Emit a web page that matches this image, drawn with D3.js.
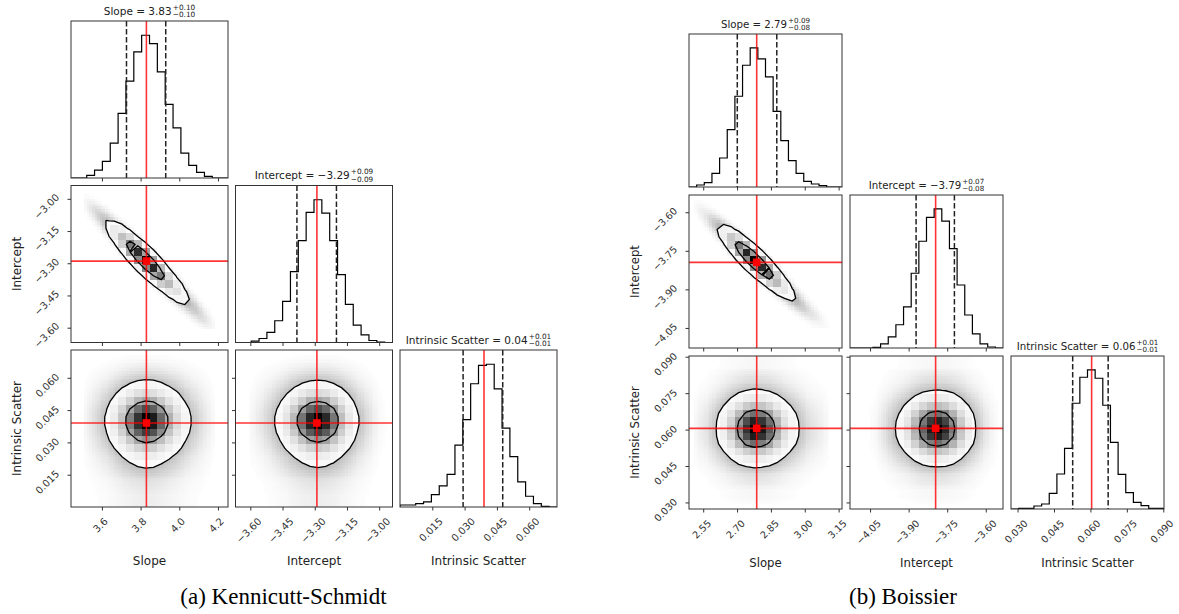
<!DOCTYPE html>
<html>
<head>
<meta charset="utf-8">
<script src="https://cdn.jsdelivr.net/npm/d3@7"></script>
<style>
  body { margin: 0; background: #fff; }
  svg { display: block; }
</style>
</head>
<body>
<svg width="1179" height="614"></svg>
<script>
//corner plots of the posterior for the two star formation laws
var svg = d3.select("svg"),
    width = +svg.attr("width"),
    height = +svg.attr("height");

var FONT = "DejaVu Sans";

var params = ["Slope", "Intercept", "Intrinsic Scatter"];
//mass enclosed by the two contours (1 and 2 sigma in 2D)
var contourLevels = [0.393, 0.865];

//(a) Kennicutt-Schmidt
var ksCaption = "(a) Kennicutt-Schmidt";
var ksRanges = [[3.44, 4.252], [-3.669, -2.938], [0.0, 0.0729]];
var ksTicks = [[3.6, 3.8, 4.0, 4.2], [-3.60, -3.45, -3.30, -3.15, -3.00], [0.015, 0.030, 0.045, 0.060]];
var ksTickDecimals = [1, 2, 3];
var ksSlopeHist = [0, 0, 8, 24, 50, 105, 195, 292, 380, 430, 405, 320, 222, 151, 75, 38, 17, 5, 0, 0];
var ksInterceptHist = [0, 0, 4, 12, 30, 65, 123, 212, 305, 389, 427, 387, 305, 203, 114, 52, 23, 6, 1, 0];
var ksScatterHist = [6, 6, 10, 15, 37, 63, 97, 184, 260, 367, 422, 425, 352, 235, 150, 75, 32, 10, 2, 0];
var ksQuantiles = [[3.727, 3.83, 3.930], [-3.383, -3.292, -3.199], [0.0293, 0.0387, 0.0477]];
var ksTruths = [3.83, -3.29, 0.039];
var ksTitleValues = [["3.83", "0.10", "0.10"], ["−3.29", "0.09", "0.09"], ["0.04", "0.01", "0.01"]];
//correlation for the pairs (slope,intercept), (slope,scatter), (intercept,scatter)
var ksCorrelation = [-0.96, 0, 0];

//(b) Boissier
var bsCaption = "(b) Boissier";
var bsRanges = [[2.487, 3.165], [-4.128, -3.533], [0.0273, 0.0903]];
var bsTicks = [[2.55, 2.70, 2.85, 3.00, 3.15], [-4.05, -3.90, -3.75, -3.60], [0.030, 0.045, 0.060, 0.075, 0.090]];
var bsTickDecimals = [2, 2, 3];
var bsSlopeHist = [0, 6, 13, 41, 87, 172, 272, 365, 417, 384, 330, 227, 139, 79, 41, 17, 9, 4, 0, 0];
var bsInterceptHist = [0, 0, 0, 2, 12, 33, 69, 122, 222, 317, 388, 413, 377, 295, 187, 98, 42, 12, 3, 0];
var bsScatterHist = [0, 2, 2, 9, 15, 47, 105, 182, 317, 395, 417, 392, 311, 200, 104, 49, 20, 10, 2, 2];
var bsQuantiles = [[2.701, 2.787, 2.876], [-3.871, -3.797, -3.722], [0.0527, 0.0602, 0.0673]];
var bsTruths = [2.787, -3.795, 0.0605];
var bsTitleValues = [["2.79", "0.09", "0.08"], ["−3.79", "0.07", "0.08"], ["0.06", "0.01", "0.01"]];
var bsCorrelation = [-0.96, 0, 0];


var ks = {
    id: "ks", caption: ksCaption, ranges: ksRanges, ticks: ksTicks, decimals: ksTickDecimals,
    hists: [ksSlopeHist, ksInterceptHist, ksScatterHist], quantiles: ksQuantiles,
    truths: ksTruths, titles: ksTitleValues, rho: ksCorrelation,
    left: 71, top: 21, size: 157, step: 164.5, fs: 1, captionX: 283.5
};
var bs = {
    id: "bs", caption: bsCaption, ranges: bsRanges, ticks: bsTicks, decimals: bsTickDecimals,
    hists: [bsSlopeHist, bsInterceptHist, bsScatterHist], quantiles: bsQuantiles,
    truths: bsTruths, titles: bsTitleValues, rho: bsCorrelation,
    left: 689, top: 34, size: 153, step: 161, fs: 0.975, captionX: 903
};

drawCorner(ks);
drawCorner(bs);


//histogram value at v, linear between bin centres
function histValue(h, r, v) {
    var n = h.length,
        p = (v - r[0]) / (r[1] - r[0]) * n - 0.5;
    if (p <= 0) return h[0];
    if (p >= n - 1) return h[n - 1];
    var k = Math.floor(p), t = p - k;
    return h[k] * (1 - t) + h[k + 1] * t;
}

//joint density: product of the marginals, tied by a gaussian copula
function densityFn(c, i, j) {
    var rho = c.rho[i + j - 1],
        qi = c.quantiles[i], qj = c.quantiles[j],
        si = (qi[2] - qi[0]) / 2, sj = (qj[2] - qj[0]) / 2,
        r2 = 1 - rho * rho, norm = 1 / Math.sqrt(r2);
    return function(x, y) {
        var f = histValue(c.hists[i], c.ranges[i], x) * histValue(c.hists[j], c.ranges[j], y);
        if (!rho || f === 0) return f;
        var zx = (x - qi[1]) / si, zy = (y - qj[1]) / sj;
        return f * norm * Math.exp(-(rho * rho * (zx * zx + zy * zy) - 2 * rho * zx * zy) / (2 * r2));
    };
}

//light smoothing of the 2d histogram, like corner's smooth option
function smooth(H, n) {
    var k = [0.15, 0.7, 0.15], tmp = new Array(n * n).fill(0), out = new Array(n * n).fill(0);
    for (var b = 0; b < n; b++) for (var a = 0; a < n; a++)
        for (var d = -1; d <= 1; d++) {
            var aa = a + d;
            if (aa >= 0 && aa < n) tmp[a + b * n] += k[d + 1] * H[aa + b * n];
        }
    for (var b = 0; b < n; b++) for (var a = 0; a < n; a++)
        for (var d = -1; d <= 1; d++) {
            var bb = b + d;
            if (bb >= 0 && bb < n) out[a + b * n] += k[d + 1] * tmp[a + bb * n];
        }
    return out;
}

//density values that enclose the given fractions of the mass
function levelValues(H, levels) {
    var s = H.slice().sort(function(a, b) { return b - a; });
    var total = d3.sum(s), cum = 0, out = [], li = 0;
    for (var k = 0; k < s.length && li < levels.length; k++) {
        cum += s[k];
        while (li < levels.length && cum >= levels[li] * total) { out.push(s[k]); li++; }
    }
    return out;
}

function drawCorner(c) {
    var g = svg.append("g");
    var xs = c.ranges.map(function(r, i) {
        var x0 = c.left + i * c.step;
        return d3.scaleLinear().domain(r).range([x0, x0 + c.size]);
    });
    var ys = c.ranges.map(function(r, j) {
        var y0 = c.top + j * c.step;
        return d3.scaleLinear().domain(r).range([y0 + c.size, y0]);
    });
    var fmt = c.decimals.map(function(d) { return d3.format("." + d + "f"); });

    for (var j = 0; j < 3; j++) {
        for (var i = 0; i <= j; i++) {
            var px = c.left + i * c.step, py = c.top + j * c.step;
            var pg = g.append("g");
            var clipId = "clip-" + c.id + i + j;
            pg.append("clipPath").attr("id", clipId)
                .append("rect").attr("x", px).attr("y", py).attr("width", c.size).attr("height", c.size);
            var inner = pg.append("g").attr("clip-path", "url(#" + clipId + ")");

            if (i == j) drawHist(c, inner, i, xs[i], py);
            else draw2d(c, inner, pg, i, j, xs[i], ys[j]);

            pg.append("rect")
                .attr("x", px).attr("y", py).attr("width", c.size).attr("height", c.size)
                .attr("fill", "none").attr("stroke", "#333").attr("stroke-width", 1);

            //bottom ticks on every panel, labels on the last row
            xAxis(pg, xs[i], c.ticks[i], py + c.size, j == 2 ? fmt[i] : null, 10 * c.fs);
            //left ticks on the 2d panels, labels on the first column
            if (i < j) yAxis(pg, ys[j], c.ticks[j], px, i == 0 ? fmt[j] : null, 10 * c.fs);

            if (i == j) drawTitle(pg, px + c.size / 2, py - 6.5, params[i], c.titles[i], 10.5 * c.fs);
        }
    }

    //axis labels
    for (var k = 0; k < 3; k++) {
        g.append("text")
            .attr("x", c.left + k * c.step + c.size / 2)
            .attr("y", c.top + 2 * c.step + c.size + 54)
            .attr("text-anchor", "middle").attr("dominant-baseline", "central")
            .attr("font-family", FONT).attr("font-size", 12 * c.fs).attr("fill", "#222")
            .text(params[k]);
    }
    for (var k = 1; k < 3; k++) {
        var cy = c.top + k * c.step + c.size / 2, cx = c.left - 54;
        g.append("text")
            .attr("transform", "translate(" + cx + "," + cy + ") rotate(-90)")
            .attr("text-anchor", "middle").attr("dominant-baseline", "central")
            .attr("font-family", FONT).attr("font-size", 12 * c.fs).attr("fill", "#222")
            .text(params[k]);
    }

    //caption under the sub figure
    g.append("text")
        .attr("x", c.captionX).attr("y", 604)
        .attr("text-anchor", "middle")
        .attr("font-family", "Liberation Serif, Times New Roman, serif").attr("font-size", 23)
        .attr("fill", "#000")
        .text(c.caption);
}

function drawHist(c, inner, i, x, py) {
    var hist = c.hists[i], r = c.ranges[i], n = hist.length;
    var y = d3.scaleLinear().domain([0, 1.1 * d3.max(hist)]).range([py + c.size, py]);
    var edges = d3.range(n + 1).map(function(k) { return r[0] + k * (r[1] - r[0]) / n; });

    var pts = [[edges[0], 0]];
    hist.forEach(function(h, k) { pts.push([edges[k], h]); pts.push([edges[k + 1], h]); });
    pts.push([edges[n], 0]);

    inner.append("path")
        .attr("d", d3.line().x(function(d) { return x(d[0]); }).y(function(d) { return y(d[1]); })(pts))
        .attr("fill", "none").attr("stroke", "#000").attr("stroke-width", 1.2);

    //16th and 84th percentiles
    [c.quantiles[i][0], c.quantiles[i][2]].forEach(function(q) {
        inner.append("line")
            .attr("x1", x(q)).attr("x2", x(q)).attr("y1", py).attr("y2", py + c.size)
            .attr("stroke", "#222").attr("stroke-width", 1.5).attr("stroke-dasharray", "5.5,2.5");
    });

    inner.append("line")
        .attr("x1", x(c.truths[i])).attr("x2", x(c.truths[i])).attr("y1", py).attr("y2", py + c.size)
        .attr("stroke", "#ff0000").attr("stroke-opacity", 0.8).attr("stroke-width", 1.6);
}

function draw2d(c, inner, pg, i, j, x, y) {
    var nb = 20, rx = c.ranges[i], ry = c.ranges[j];
    var wx = (rx[1] - rx[0]) / nb, wy = (ry[1] - ry[0]) / nb;
    var dens = densityFn(c, i, j);

    //faint cloud of samples
    var nh = 60, hx = (rx[1] - rx[0]) / nh, hy = (ry[1] - ry[0]) / nh, cells = [];
    for (var b = 0; b < nh; b++) {
        for (var a = 0; a < nh; a++) {
            var s = 0;
            for (var u = 0; u < 3; u++) for (var v = 0; v < 3; v++)
                s += dens(rx[0] + (a + (u + 0.5) / 3) * hx, ry[1] - (b + (v + 0.5) / 3) * hy);
            cells.push({ a: a, b: b, f: s / 9 });
        }
    }
    var hmax = d3.max(cells, function(d) { return d.f; });
    cells.forEach(function(d) { d.op = 1 - Math.exp(-1.5 * Math.pow(d.f / hmax, 0.72)); });

    inner.append("g").attr("shape-rendering", "crispEdges")
        .selectAll("rect")
        .data(cells.filter(function(d) { return d.op > 0.008; }))
        .enter().append("rect")
        .attr("x", function(d) { return Math.round(x(rx[0] + d.a * hx)); })
        .attr("y", function(d) { return Math.round(y(ry[1] - d.b * hy)); })
        .attr("width", function(d) { return Math.round(x(rx[0] + (d.a + 1) * hx)) - Math.round(x(rx[0] + d.a * hx)); })
        .attr("height", function(d) { return Math.round(y(ry[1] - (d.b + 1) * hy)) - Math.round(y(ry[1] - d.b * hy)); })
        .attr("fill", "#000")
        .attr("fill-opacity", function(d) { return d.op; });

    //2d histogram, row 0 at the top
    var H = [];
    for (var b = 0; b < nb; b++) {
        for (var a = 0; a < nb; a++) {
            var s = 0;
            for (var u = 0; u < 8; u++) for (var v = 0; v < 8; v++)
                s += dens(rx[0] + (a + (u + 0.5) / 8) * wx, ry[1] - (b + (v + 0.5) / 8) * wy);
            H.push(s);
        }
    }
    H = smooth(H, nb);
    var Hmax = d3.max(H);
    var V = levelValues(H, contourLevels);
    var contours = d3.contours().size([nb, nb]).thresholds(V)(H);
    var path = d3.geoPath(d3.geoTransform({
        point: function(gx, gy) { this.stream.point(x(rx[0] + gx * wx), y(ry[1] - gy * wy)); }
    }));
    var outer = contours.reduce(function(m, d) { return d.value < m.value ? d : m; });

    //white base under the density
    inner.append("path").attr("d", path(outer)).attr("fill", "#fff");

    inner.append("g").attr("shape-rendering", "crispEdges")
        .selectAll("rect")
        .data(H.map(function(h, k) { return { a: k % nb, b: Math.floor(k / nb), s: h / Hmax }; })
            .filter(function(d) { return d.s > 0.004; }))
        .enter().append("rect")
        .attr("x", function(d) { return Math.round(x(rx[0] + d.a * wx)); })
        .attr("y", function(d) { return Math.round(y(ry[1] - d.b * wy)); })
        .attr("width", function(d) { return Math.round(x(rx[0] + (d.a + 1) * wx)) - Math.round(x(rx[0] + d.a * wx)); })
        .attr("height", function(d) { return Math.round(y(ry[1] - (d.b + 1) * wy)) - Math.round(y(ry[1] - d.b * wy)); })
        .attr("fill", function(d) { var t = 255 * (1 - d.s); return d3.rgb(t, t, t); })
        .attr("fill-opacity", function(d) { return d.s; });

    inner.append("g").selectAll("path")
        .data(contours)
        .enter().append("path")
        .attr("d", path)
        .attr("fill", "none").attr("stroke", "#000").attr("stroke-width", 1.3);

    //true values
    var tx = x(c.truths[i]), ty = y(c.truths[j]);
    inner.append("line")
        .attr("x1", tx).attr("x2", tx).attr("y1", y.range()[1]).attr("y2", y.range()[0])
        .attr("stroke", "#ff0000").attr("stroke-opacity", 0.8).attr("stroke-width", 1.6);
    inner.append("line")
        .attr("x1", x.range()[0]).attr("x2", x.range()[1]).attr("y1", ty).attr("y2", ty)
        .attr("stroke", "#ff0000").attr("stroke-opacity", 0.8).attr("stroke-width", 1.6);
    pg.append("rect")
        .attr("x", tx - 3.8).attr("y", ty - 3.8).attr("width", 7.6).attr("height", 7.6)
        .attr("fill", "#ff0000");
}

function xAxis(pg, scale, ticks, y0, format, fs) {
    var ax = pg.append("g").attr("transform", "translate(0," + y0 + ")")
        .call(d3.axisBottom(scale).tickValues(ticks).tickSize(3.5).tickSizeOuter(0)
            .tickFormat(format || function() { return ""; }));
    ax.select(".domain").remove();
    ax.selectAll(".tick line").attr("stroke", "#333");
    if (!format) { ax.selectAll(".tick text").remove(); return; }
    ax.selectAll(".tick text").each(function() {
        var t = d3.select(this)
            .attr("y", null).attr("dy", null)
            .attr("font-family", FONT).attr("font-size", fs).attr("fill", "#333")
            .attr("text-anchor", "middle").attr("dominant-baseline", "central");
        var d = (this.getComputedTextLength() + 0.73 * fs) * 0.3536;
        t.attr("transform", "translate(-2," + (10 + d) + ") rotate(-45)");
    });
}

function yAxis(pg, scale, ticks, x0, format, fs) {
    var ax = pg.append("g").attr("transform", "translate(" + x0 + ",0)")
        .call(d3.axisLeft(scale).tickValues(ticks).tickSize(3.5).tickSizeOuter(0)
            .tickFormat(format || function() { return ""; }));
    ax.select(".domain").remove();
    ax.selectAll(".tick line").attr("stroke", "#333");
    if (!format) { ax.selectAll(".tick text").remove(); return; }
    ax.selectAll(".tick text").each(function() {
        var t = d3.select(this)
            .attr("x", null).attr("dy", null)
            .attr("font-family", FONT).attr("font-size", fs).attr("fill", "#333")
            .attr("text-anchor", "middle").attr("dominant-baseline", "central");
        var d = (this.getComputedTextLength() + 0.73 * fs) * 0.3536;
        t.attr("transform", "translate(" + (-(11 + d)) + ",7) rotate(-45)");
    });
}

//"Name = value" with the errors stacked as super and subscript
function drawTitle(pg, cx, yb, name, vals, fs) {
    var main = pg.append("text").attr("y", yb)
        .attr("font-family", FONT).attr("font-size", fs).attr("fill", "#222")
        .text(name + " = " + vals[0]);
    var sup = pg.append("text").attr("y", yb - 0.45 * fs)
        .attr("font-family", FONT).attr("font-size", 0.7 * fs).attr("fill", "#222")
        .text("+" + vals[1]);
    var sub = pg.append("text").attr("y", yb + 0.25 * fs)
        .attr("font-family", FONT).attr("font-size", 0.7 * fs).attr("fill", "#222")
        .text("−" + vals[2]);
    var mw = main.node().getComputedTextLength(),
        sw = Math.max(sup.node().getComputedTextLength(), sub.node().getComputedTextLength());
    var x0 = cx - (mw + 1 + sw) / 2;
    main.attr("x", x0);
    sup.attr("x", x0 + mw + 1);
    sub.attr("x", x0 + mw + 1);
}
</script>
</body>
</html>
